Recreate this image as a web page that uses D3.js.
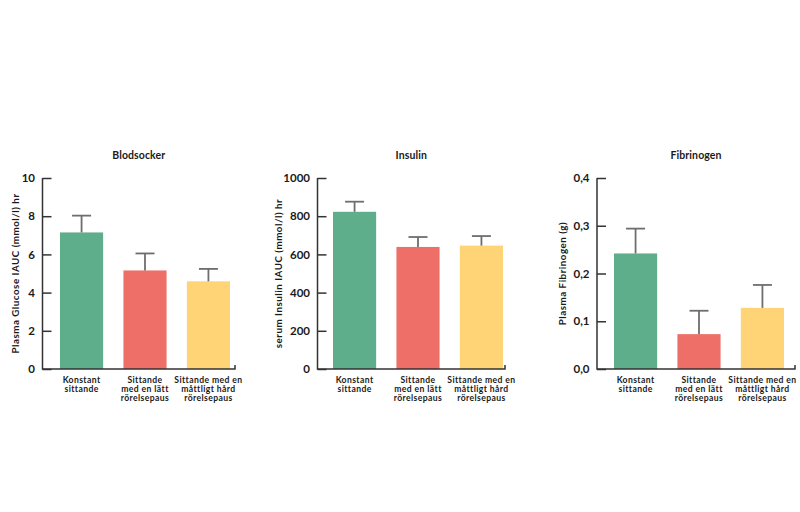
<!DOCTYPE html>
<html lang="sv">
<head>
    <meta charset="UTF-8">
    <title>Blodsocker, Insulin, Fibrinogen</title>
    <script src="https://d3js.org/d3.v7.min.js"></script>
    <style>
        body { margin: 0; background: #fff; }
        svg { display: block; }
        text { font-family: Lato, "Open Sans", sans-serif; font-weight: 700; fill: #1a1a1a; }
        .title { font-size: 10.5px; letter-spacing: 0.1px; }
        .tick-label { font-size: 11.5px; }
        .y-label { font-size: 9.8px; letter-spacing: 0.5px; }
        .cat { font-size: 8.6px; letter-spacing: 0.4px; }
    </style>
</head>
<body>
    <svg width="800" height="512"></svg>

    <script>
        // categories (label lines)
        const categories = [
            ["Konstant", "sittande"],
            ["Sittande", "med en lätt", "rörelsepaus"],
            ["Sittande med en", "måttligt hård", "rörelsepaus"]
        ];
        const colors = ["#5fae8b", "#ed6f67", "#fed477"];

        // series values (mean, error)
        const glucoseMean = [7.15, 5.16, 4.59];
        const glucoseErr = [0.88, 0.89, 0.65];
        const insulinMean = [823, 639, 646];
        const insulinErr = [53, 52, 50];
        const fibrinogenMean = [0.242, 0.073, 0.128];
        const fibrinogenErr = [0.052, 0.049, 0.048];

        // tick labels
        const glucoseTicks = [0, 2, 4, 6, 8, 10];
        const insulinTicks = [0, 200, 400, 600, 800, 1000];
        const fibrinogenTicks = [0, 0.1, 0.2, 0.3, 0.4];

        const panels = [
            { title: "Blodsocker", ylabel: "Plasma Glucose IAUC (mmol/l) hr", mean: glucoseMean, err: glucoseErr,
              ticks: glucoseTicks, max: 10, fmt: d => d, axisX: 42.5, barStart: 60, barEnd: 230, axisEnd: 235, labelX: 15 },
            { title: "Insulin", ylabel: "serum Insulin IAUC (mmol/l) hr", mean: insulinMean, err: insulinErr,
              ticks: insulinTicks, max: 1000, fmt: d => d, axisX: 317.5, barStart: 333, barEnd: 503, axisEnd: 505, labelX: 278 },
            { title: "Fibrinogen", ylabel: "Plasma Fibrinogen (g)", mean: fibrinogenMean, err: fibrinogenErr,
              ticks: fibrinogenTicks, max: 0.4, fmt: d => d.toFixed(1).replace(".", ","), axisX: 597, barStart: 614, barEnd: 784, axisEnd: 795, labelX: 562 }
        ];

        const svg = d3.select("svg");
        const yTop = 178, yBottom = 369;

        panels.forEach(p => {
            const g = svg.append("g");

            const x = d3.scaleBand()
                .domain(d3.range(categories.length))
                .range([p.barStart, p.barEnd])
                .paddingInner(0.32)
                .paddingOuter(0);

            const y = d3.scaleLinear()
                .domain([0, p.max])
                .range([yBottom, yTop]);

            // bars
            g.selectAll("rect.bar")
                .data(p.mean)
                .enter().append("rect")
                .attr("class", "bar")
                .attr("x", (d, i) => x(i))
                .attr("y", d => y(d))
                .attr("width", x.bandwidth())
                .attr("height", d => y(0) - y(d))
                .attr("fill", (d, i) => colors[i]);

            // error bars
            const eb = g.selectAll("g.err")
                .data(p.mean)
                .enter().append("g")
                .attr("class", "err")
                .attr("stroke", "#6e6e6e")
                .attr("stroke-width", 1.8);

            eb.append("line")
                .attr("x1", (d, i) => x(i) + x.bandwidth() / 2)
                .attr("x2", (d, i) => x(i) + x.bandwidth() / 2)
                .attr("y1", d => y(d))
                .attr("y2", (d, i) => y(d + p.err[i]));

            eb.append("line")
                .attr("x1", (d, i) => x(i) + x.bandwidth() / 2 - 9.5)
                .attr("x2", (d, i) => x(i) + x.bandwidth() / 2 + 9.5)
                .attr("y1", (d, i) => y(d + p.err[i]))
                .attr("y2", (d, i) => y(d + p.err[i]));

            // y axis with inward ticks
            const yAxis = d3.axisRight(y)
                .tickValues(p.ticks)
                .tickSize(9)
                .tickFormat("");
            const ya = g.append("g")
                .attr("transform", `translate(${p.axisX},0)`)
                .call(yAxis);
            ya.select(".domain").remove();
            ya.selectAll(".tick line").attr("stroke", "#333").attr("stroke-width", 1.5);

            g.selectAll("text.tick-label")
                .data(p.ticks)
                .enter().append("text")
                .attr("class", "tick-label")
                .attr("x", p.axisX - 7.5)
                .attr("y", d => y(d))
                .attr("dy", "0.36em")
                .attr("text-anchor", "end")
                .text(p.fmt);

            // axis lines
            g.append("path")
                .attr("d", `M${p.axisX},${yTop}V${yBottom}H${p.axisEnd}V${yBottom - 4}`)
                .attr("fill", "none")
                .attr("stroke", "#333")
                .attr("stroke-width", 1.5);

            // category labels
            const cat = g.selectAll("text.cat")
                .data(categories)
                .enter().append("text")
                .attr("class", "cat")
                .attr("text-anchor", "middle")
                .attr("transform", (d, i) => `translate(${x(i) + x.bandwidth() / 2},383)`);
            cat.selectAll("tspan")
                .data(d => d)
                .enter().append("tspan")
                .attr("x", 0)
                .attr("y", (d, i) => i * 9.2)
                .text(d => d);

            // title
            g.append("text")
                .attr("class", "title")
                .attr("x", (p.axisX + p.axisEnd) / 2)
                .attr("y", 159)
                .attr("text-anchor", "middle")
                .text(p.title);

            // y label
            g.append("text")
                .attr("class", "y-label")
                .attr("transform", `translate(${p.labelX + 3.5},${(yTop + yBottom) / 2}) rotate(-90)`)
                .attr("text-anchor", "middle")
                .text(p.ylabel);
        });
    </script>
</body>
</html>
